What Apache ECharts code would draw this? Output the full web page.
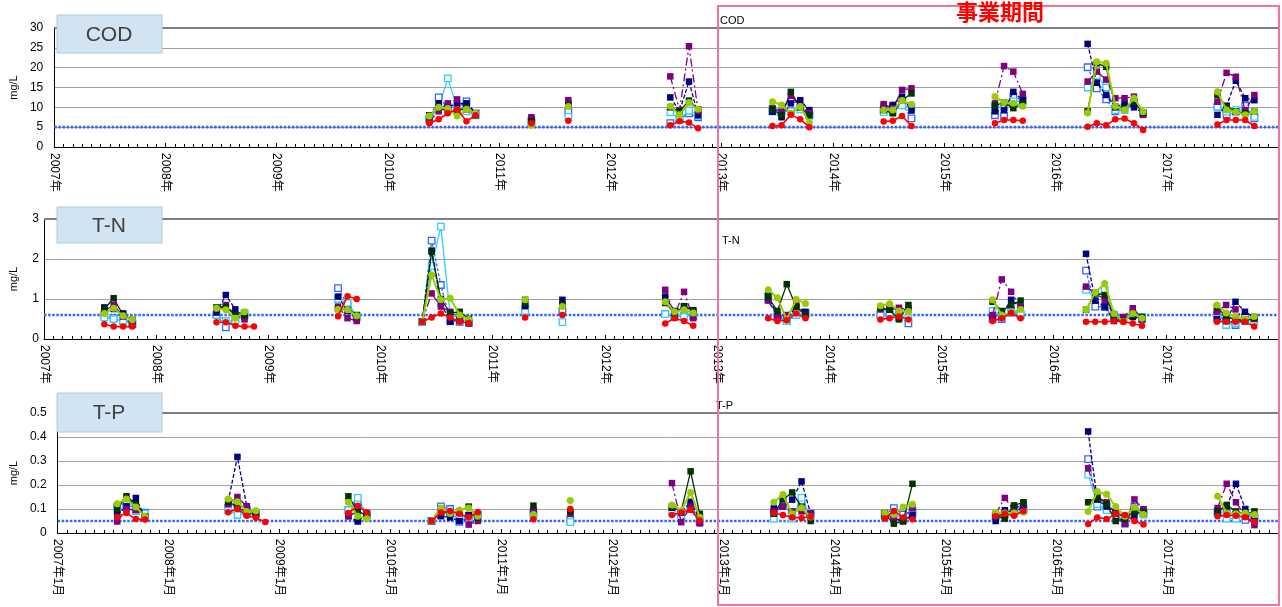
<!DOCTYPE html>
<html>
<head>
<meta charset="utf-8">
<script src="https://cdn.jsdelivr.net/npm/echarts@6.0.0/dist/echarts.min.js"></script>
<style>
  html, body { margin: 0; padding: 0; background: #ffffff; }
  #chart { width: 1282px; height: 607px; }
</style>
</head>
<body>
<div id="chart"></div>
<script>
// Survey dates shared by all three parameters
const sampleDates = [
  '2007-07-15','2007-08-15','2007-09-15','2007-10-15',
  '2008-07-15','2008-08-15','2008-09-15','2008-10-15','2008-11-15',
  '2009-08-15','2009-09-15','2009-10-15',
  '2010-05-15','2010-06-15','2010-07-15','2010-08-15','2010-09-15','2010-10-15',
  '2011-04-15',
  '2011-08-15',
  '2012-07-15','2012-08-15','2012-09-15','2012-10-15',
  '2013-06-15','2013-07-15','2013-08-15','2013-09-15','2013-10-15',
  '2014-06-15','2014-07-15','2014-08-15','2014-09-15',
  '2015-06-15','2015-07-15','2015-08-15','2015-09-15',
  '2016-04-15','2016-05-15','2016-06-15','2016-07-15','2016-08-15','2016-09-15','2016-10-15',
  '2017-06-15','2017-07-15','2017-08-15','2017-09-15','2017-10-15'
];
const N12 = [null,null,null,null,null,null,null,null,null,null,null,null];

// COD (mg/L)
const codNavy   = N12.concat([7,11,10,11,11,8.5, 7, 11, 12.5,9,16.5,8, 8.9,7.5,11,11.8,9.3, 10.2,10.6,12.7,9.2, 9,9.3,13.9,11.8, 26,16.2,13.1,10,11,10,8.5, 8.1,10.4,16.7,12.3,11.8]);
const codPurple = N12.concat([6.5,9,11,12,9.5,8.5, 7.5, 11.8, 17.8,9.3,25.4,9, 9.8,8.9,12.9,10.3,8.6, 10.8,9.8,14.4,14.8, 11,20.4,19,13.4, 16.5,19,17,12.3,12.3,12.7,8.1, 11.4,18.7,17.7,9.3,13.1]);
const codGreen  = N12.concat([8,10,9,9,10,8, 6.5, 10.5, 10,9,11.7,9.5, 9.5,8,13.9,10,8, 9.3,8.5,11.8,13.5, 10.5,11.2,9.8,11, 9,21.1,20.2,10.2,9.8,11.4,8.6, 13.1,10.2,9,8.5,8.9]);
const codBlue   = N12.concat([7,12.5,10,10,11.5,8.5, 6.5, 9, 6,7,8.5,7.5, 9,9,9,10,8, 9.3,10.2,11,7.2, 8,7.8,12.7,11.8, 20.1,14.8,12,9,10,11,8.5, 10.2,8,8.9,10.4,7.2]);
const codCyan   = N12.concat([7,10,17.3,10,9,8, 6, 7.6, 8.8,7,9.2,8, 9.5,9,9,9.5,8, 8.8,9,10.5,10, 10,10.2,11.5,11.5, 15,18,15,9.3,9.3,11,8.6, 10.2,8.9,9.3,8.9,7.6]);
const codLime   = N12.concat([7.8,10,9.7,7.8,9.5,8.5, 5.5, 10.2, 10.3,8.1,11.2,9.5, 11.4,10.6,8.5,10.2,6.1, 9.3,9.3,11.7,10.8, 12.7,11.2,11,10.3, 8.6,21.5,21.1,10.3,9.3,12.3,8.9, 13.9,9.3,8.9,8.1,8.9]);
const codRed    = N12.concat([6,7,8.5,9.5,6.5,8, 6, 6.6, 5.5,6.5,6.2,4.7, 5.3,5.5,8.1,7,5, 6.4,6.6,7.8,5.3, 6,6.8,6.8,6.6, 5.1,6,5.5,7,7.2,6,4.3, 5.7,6.8,6.8,6.8,5.3]);

// T-N (mg/L)
const tnNavy   = [0.79,0.75,0.64,0.43, 0.66,1.1,0.74,0.55,null, 1.06,0.7,0.5, 0.43,2.21,0.89,0.43,0.48,0.4, 0.82, 0.98, 1.06,0.7,0.82,0.7, 1.1,0.55,0.5,0.81,0.68, 0.8,0.78,0.72,0.75, 0.55,0.6,0.98,0.8, 2.13,0.96,0.81,0.45,0.5,0.55,0.5, 0.5,0.45,0.93,0.68,0.55];
const tnPurple = [0.7,0.85,0.56,0.35, 0.75,0.85,0.6,0.49,null, 0.81,0.52,0.45, 0.43,1.14,0.81,0.68,0.5,0.39, 0.98, 0.85, 1.23,0.6,1.18,0.52, 0.96,0.56,0.6,0.85,0.6, 0.74,0.73,0.78,0.73, 0.6,1.49,1.18,0.8, 1.31,1.15,0.98,0.6,0.55,0.77,0.52, 0.68,0.85,0.74,0.45,0.5];
const tnGreen  = [0.75,1.02,0.6,0.48, 0.79,0.8,0.6,0.6,null, 0.75,0.73,0.6, 0.43,2.18,1.0,0.65,0.68,0.5, 0.9, 0.85, 0.9,0.65,0.82,0.72, 1.05,0.7,1.37,0.8,0.6, 0.78,0.73,0.49,0.85, 0.93,0.7,0.85,0.96, 0.73,1.14,1.1,0.6,0.45,0.6,0.55, 0.8,0.55,0.5,0.45,0.52];
const tnBlue   = [0.6,0.52,0.45,0.37, 0.6,0.29,0.5,0.6,null, 1.27,0.85,0.55, 0.43,2.46,1.35,0.45,0.43,0.4, 0.75, 0.7, 0.62,0.55,0.57,0.57, 1.05,0.55,0.45,0.6,0.65, 0.6,0.62,0.55,0.39, 0.5,0.5,0.7,0.6, 1.71,0.81,0.8,0.55,0.5,0.6,0.5, 0.6,0.45,0.35,0.55,0.5];
const tnCyan   = [0.54,0.5,0.45,0.4, 0.6,0.45,0.45,0.65,null, 1.0,0.9,0.58, 0.43,1.83,2.81,0.6,0.55,0.4, 0.7, 0.42, 0.62,0.58,0.55,0.62, 0.99,0.6,0.45,0.6,0.62, 0.6,0.65,0.58,0.52, 0.7,0.6,0.65,0.62, 1.23,1.04,1.23,0.6,0.5,0.62,0.55, 0.55,0.35,0.4,0.45,0.45];
const tnLime   = [0.64,0.77,0.58,0.48, 0.77,0.73,0.52,0.68,null, 0.74,0.73,0.58, 0.43,1.6,0.98,1.02,0.6,0.49, 0.98, 0.81, 0.93,0.68,0.73,0.65, 1.23,1.03,0.49,0.99,0.89, 0.83,0.88,0.7,0.69, 0.98,0.6,0.65,0.74, 0.73,1.16,1.39,0.64,0.43,0.64,0.52, 0.85,0.65,0.56,0.5,0.56];
const tnRed    = [0.37,0.31,0.31,0.31, 0.42,0.42,0.33,0.31,0.31, 0.57,1.07,1.0, 0.43,0.54,0.64,0.54,0.43,0.4, 0.54, 0.6, 0.39,0.52,0.45,0.33, 0.52,0.45,0.47,0.64,0.52, 0.49,0.52,0.56,0.49, 0.45,0.52,0.65,0.52, 0.43,0.43,0.43,0.45,0.43,0.39,0.33, 0.43,0.43,0.43,0.43,0.31];

// T-P (mg/L)
const tpNavy   = [0.076,0.111,0.146,0.066, 0.132,0.317,0.111,0.08,null, 0.07,0.048,0.08, 0.05,0.07,0.065,0.05,0.075,0.07, 0.09, 0.085, 0.105,0.085,0.13,0.06, 0.103,0.11,0.139,0.215,0.08, 0.07,0.06,0.05,0.075, 0.05,0.095,0.08,0.115, 0.423,0.139,0.11,0.09,0.06,0.07,0.098, 0.085,0.11,0.205,0.1,0.05];
const tpPurple = [0.048,0.1,0.095,0.065, 0.12,0.15,0.11,0.08,null, 0.07,0.09,0.08, 0.05,0.1,0.08,0.085,0.035,0.05, 0.097, 0.08, 0.208,0.045,0.11,0.04, 0.09,0.11,0.09,0.09,0.08, 0.083,0.055,0.06,0.104, 0.08,0.146,0.095,0.125, 0.27,0.15,0.128,0.08,0.037,0.14,0.098, 0.104,0.205,0.128,0.07,0.033];
const tpGreen  = [0.1,0.153,0.12,0.07, 0.13,0.11,0.08,0.08,null, 0.153,0.093,0.07, 0.05,0.09,0.08,0.09,0.11,0.065, 0.114, 0.09, 0.11,0.09,0.257,0.08, 0.08,0.14,0.169,0.11,0.05, 0.077,0.039,0.048,0.205, 0.07,0.06,0.115,0.128, 0.128,0.15,0.12,0.05,0.06,0.09,0.085, 0.09,0.117,0.09,0.08,0.09];
const tpBlue   = [0.108,0.125,0.1,0.085, 0.105,0.12,0.095,0.08,null, 0.095,0.125,0.075, 0.05,0.111,0.1,0.046,0.07,0.075, 0.085, 0.055, 0.09,0.075,0.1,0.045, 0.085,0.124,0.085,0.124,0.08, 0.077,0.104,0.077,0.09, 0.07,0.08,0.1,0.1, 0.308,0.11,0.11,0.075,0.04,0.11,0.085, 0.09,0.085,0.075,0.055,0.065];
const tpCyan   = [0.095,0.11,0.09,0.081, 0.095,0.075,0.08,0.085,null, 0.095,0.146,0.08, 0.05,0.09,0.08,0.07,0.065,0.065, 0.075, 0.045, 0.085,0.07,0.11,0.065, 0.06,0.14,0.06,0.146,0.07, 0.077,0.083,0.055,0.077, 0.065,0.075,0.09,0.095, 0.243,0.12,0.095,0.07,0.055,0.095,0.077, 0.083,0.06,0.06,0.077,0.06];
const tpLime   = [0.122,0.142,0.108,0.07, 0.142,0.13,0.09,0.093,null, 0.128,0.07,0.06, 0.05,0.104,0.081,0.096,0.104,0.07, 0.077, 0.135, 0.117,0.093,0.169,0.066, 0.128,0.16,0.08,0.105,0.067, 0.083,0.077,0.108,0.12, 0.086,0.083,0.083,0.086, 0.09,0.173,0.161,0.11,0.07,0.107,0.077, 0.153,0.083,0.08,0.083,0.077];
const tpRed    = [0.067,0.083,0.058,0.056, 0.086,0.1,0.072,0.064,0.046, 0.083,0.114,0.086, 0.05,0.085,0.092,0.08,0.066,0.086, 0.057, 0.1, 0.075,0.085,0.097,0.052, 0.083,0.075,0.065,0.063,0.068, 0.06,0.092,0.065,0.057, 0.07,0.08,0.072,0.092, 0.037,0.065,0.058,0.08,0.075,0.05,0.035, 0.07,0.075,0.072,0.066,0.047];

// Environmental standard values
const codStandard = 5;
const tnStandard = 0.6;
const tpStandard = 0.05;

// Axis ranges [min, max, step]
const startYear = 2007;
const endYear = 2018;
const codTicks = [0, 30, 5];
const tnTicks = [0, 3, 1];
const tpTicks = [0, 0.5, 0.1];

const FONT = "'Liberation Sans', 'Noto Sans CJK JP', sans-serif";
const JFONT = "'Noto Sans CJK JP', sans-serif";

// months since January of startYear
function toMonth(s) {
  const p = s.split('-').map(Number);
  const dim = new Date(p[0], p[1], 0).getDate();
  return (p[0] - startYear) * 12 + (p[1] - 1) + (p[2] - 1) / dim;
}
const xMax = (endYear - startYear) * 12;

// break the line between survey campaigns
function buildPoints(values) {
  const pts = [];
  sampleDates.forEach((d, i) => {
    const x = toMonth(d);
    if (i > 0 && x - toMonth(sampleDates[i - 1]) > 1.6) pts.push([x - 0.5, '-']);
    pts.push([x, values[i] == null ? '-' : values[i]]);
  });
  return pts;
}

const looks = {
  blue:   { color: '#3366FF', hollow: true,  symbol: 'rect',   size: 6.5, type: [3, 2],       width: 1.3, z: 3 },
  cyan:   { color: '#33CCFF', hollow: true,  symbol: 'rect',   size: 6.5, type: 'solid',      width: 1.3, z: 3 },
  navy:   { color: '#000080', hollow: false, symbol: 'rect',   size: 6.5, type: [4, 2],       width: 1.3, z: 4 },
  purple: { color: '#800080', hollow: false, symbol: 'rect',   size: 6.5, type: [8, 3, 2, 3], width: 1.3, z: 4 },
  green:  { color: '#003300', hollow: false, symbol: 'rect',   size: 6.5, type: 'solid',      width: 1.3, z: 4 },
  lime:   { color: '#99CC00', hollow: false, symbol: 'circle', size: 7,   type: 'solid',      width: 2,   z: 5 },
  red:    { color: '#FF0000', hollow: false, symbol: 'circle', size: 6.5, type: 'solid',      width: 1.6, z: 6 }
};

const panels = [
  { name: 'COD', ticks: codTicks, std: codStandard,
    sets: { blue: codBlue, cyan: codCyan, navy: codNavy, purple: codPurple, green: codGreen, lime: codLime, red: codRed } },
  { name: 'T-N', ticks: tnTicks, std: tnStandard,
    sets: { blue: tnBlue, cyan: tnCyan, navy: tnNavy, purple: tnPurple, green: tnGreen, lime: tnLime, red: tnRed } },
  { name: 'T-P', ticks: tpTicks, std: tpStandard,
    sets: { blue: tpBlue, cyan: tpCyan, navy: tpNavy, purple: tpPurple, green: tpGreen, lime: tpLime, red: tpRed } }
];

const grids = [
  { left: 51, top: 28,  width: 1227, height: 119 },
  { left: 44, top: 219, width: 1234, height: 120 },
  { left: 51, top: 413, width: 1227, height: 120 }
];

const xAxes = grids.map((g, i) => ({
  type: 'value', gridIndex: i, min: 0, max: xMax, interval: 12,
  axisLine: { show: true, onZero: false, lineStyle: { color: '#000', width: 1 } },
  axisTick: { show: true, inside: true, length: 4, lineStyle: { color: '#000' } },
  minorTick: { show: true, splitNumber: 12, length: 3, lineStyle: { color: '#000' } },
  splitLine: { show: false },
  axisLabel: {
    rotate: -90, margin: 6, fontSize: 12, color: '#000', fontFamily: FONT,
    padding: [0, 0, 12, 0], showMaxLabel: false,
    formatter: v => {
      const y = startYear + Math.round(v / 12);
      if (y >= endYear) return '';
      return i === 2 ? y + '年1月' : y + '年';
    }
  }
}));

const yAxes = panels.map((p, i) => ({
  type: 'value', gridIndex: i, min: p.ticks[0], max: p.ticks[1], interval: p.ticks[2],
  name: 'mg/L', nameLocation: 'middle', nameRotate: 90, nameGap: i === 1 ? 25 : 32,
  nameTextStyle: { fontSize: 11, color: '#000', fontFamily: FONT },
  axisLine: { show: true, lineStyle: { color: '#000', width: 1 } },
  axisTick: { show: false },
  splitLine: { show: true, lineStyle: { color: '#a0a0a0', width: 1 } },
  axisLabel: { fontSize: 12, color: '#000', fontFamily: FONT, margin: i === 1 ? 5 : 11 }
}));

const series = [];
panels.forEach((p, i) => {
  // standard value line
  series.push({
    type: 'line', xAxisIndex: i, yAxisIndex: i, silent: true, z: 1,
    data: [[0, p.std], [xMax, p.std]], showSymbol: false,
    lineStyle: { color: '#3366FF', width: 2.6, type: [2.5, 1.6] }
  });
  // plot top border
  series.push({
    type: 'line', xAxisIndex: i, yAxisIndex: i, silent: true, z: 1,
    data: [[0, p.ticks[1]], [xMax, p.ticks[1]]], showSymbol: false,
    lineStyle: { color: '#7f7f7f', width: 2 }
  });
  Object.keys(p.sets).forEach(key => {
    const lk = looks[key];
    series.push({
      type: 'line', name: p.name + '-' + key, xAxisIndex: i, yAxisIndex: i,
      data: buildPoints(p.sets[key]), connectNulls: false,
      symbol: lk.symbol, symbolSize: lk.size, showAllSymbol: true, z: lk.z,
      lineStyle: { color: lk.color, width: lk.width, type: lk.type },
      itemStyle: lk.hollow ? { color: '#ffffff', borderColor: lk.color, borderWidth: 1.3 } : { color: lk.color },
      emphasis: { disabled: true }
    });
  });
});

const boxStyle = { fill: '#D2E4F1', stroke: '#A9CCE2', lineWidth: 1 };
const titleBoxes = [
  { text: 'COD', y: 15, h: 38 },
  { text: 'T-N', y: 207, h: 36 },
  { text: 'T-P', y: 393, h: 39 }
];
const graphic = [];
titleBoxes.forEach(b => {
  graphic.push({ type: 'rect', shape: { x: 57, y: b.y, width: 105, height: b.h }, style: boxStyle, z: 10 });
  graphic.push({ type: 'text', x: 109, y: b.y + b.h / 2 + 1, z: 11,
    style: { text: b.text, fontSize: 21, fontFamily: FONT, fill: '#404040', align: 'center', verticalAlign: 'middle' } });
});
[['COD', 720, 21], ['T-N', 722, 241], ['T-P', 716, 406]].forEach(t => {
  graphic.push({ type: 'text', x: t[1], y: t[2], z: 11,
    style: { text: t[0], fontSize: 11, fontFamily: FONT, fill: '#000', align: 'left', verticalAlign: 'middle' } });
});
graphic.push({ type: 'rect', shape: { x: 718, y: 6, width: 561, height: 599 },
  style: { fill: 'none', stroke: '#F4739E', lineWidth: 2 }, z: 12 });
graphic.push({ type: 'text', x: 1000, y: 12, z: 12,
  style: { text: '事業期間', fontSize: 22, fontWeight: 'bold', fontFamily: JFONT, fill: '#FF0000', align: 'center', verticalAlign: 'middle' } });

const chart = echarts.init(document.getElementById('chart'), null, { renderer: 'canvas' });
chart.setOption({
  animation: false,
  backgroundColor: '#ffffff',
  grid: grids,
  xAxis: xAxes,
  yAxis: yAxes,
  series: series,
  graphic: graphic
});
</script>
</body>
</html>
